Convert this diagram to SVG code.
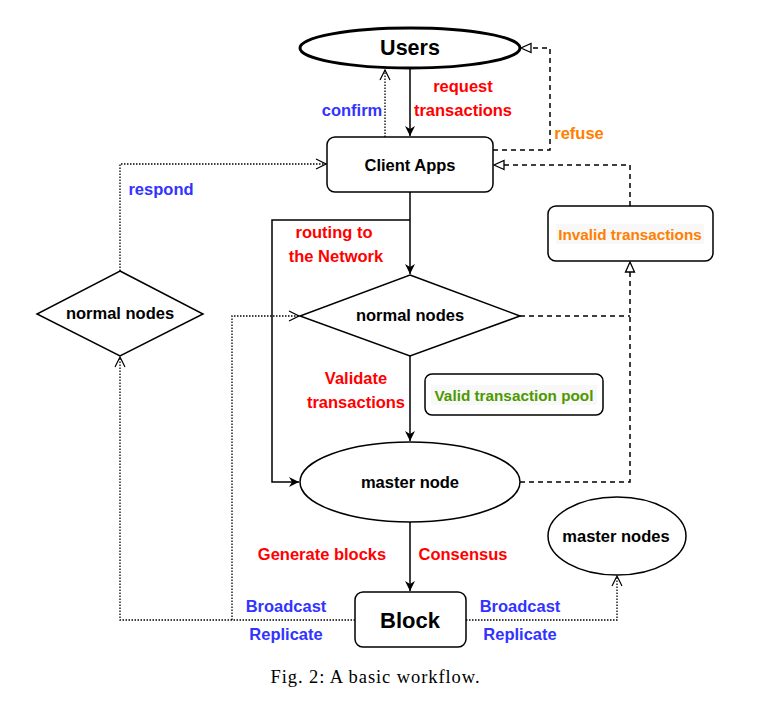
<svg xmlns="http://www.w3.org/2000/svg" width="761" height="710" viewBox="0 0 761 710">
<defs>
<style>
.n{fill:#fff;stroke:#000;stroke-width:1.5}
.t{font-family:"Liberation Sans",Arial,sans-serif;font-weight:bold;font-size:16.5px;text-anchor:middle;dominant-baseline:central}
.red{fill:#ff0000}.blue{fill:#3333ff}.org{fill:#ff8000}.grn{fill:#4d9900}
.s{fill:none;stroke:#000;stroke-width:1.5}
.d{fill:none;stroke:#000;stroke-width:1.5;stroke-dasharray:5 4}
.o{fill:none;stroke:#000;stroke-width:1.3;stroke-dasharray:1.5 1.5}
</style>
<marker id="af" viewBox="0 0 12 12" refX="11" refY="6" markerWidth="12" markerHeight="12" markerUnits="userSpaceOnUse" orient="auto"><path d="M1,1 L11,6 L1,11 L4,6 Z" fill="#000"/></marker>
<marker id="ao" viewBox="0 0 12 12" refX="11" refY="6" markerWidth="12" markerHeight="12" markerUnits="userSpaceOnUse" orient="auto"><path d="M1,1 L11,6 L1,11" fill="none" stroke="#000" stroke-width="1.2"/></marker>
<marker id="at" viewBox="0 0 12 12" refX="11" refY="6" markerWidth="12" markerHeight="12" markerUnits="userSpaceOnUse" orient="auto"><path d="M1,1.5 L11,6 L1,10.5 Z" fill="#fff" stroke="#000" stroke-width="1.3"/></marker>
</defs>
<rect width="761" height="710" fill="#fff"/>
<g id="connectors">
<path class="s" d="M410,68 V136" marker-end="url(#af)"/>
<path class="o" d="M385,137 V70" marker-end="url(#ao)"/>
<path class="d" d="M493,150 H550 V48 H521" marker-end="url(#at)"/>
<path class="d" d="M630,206 V165 H494" marker-end="url(#at)"/>
<path class="s" d="M410,192 V274" marker-end="url(#af)"/>
<path class="s" d="M410,220 H272 V482 H299" marker-end="url(#af)"/>
<path class="d" d="M520,316 H630"/>
<path class="d" d="M520,482 H630 V262" marker-end="url(#at)"/>
<path class="s" d="M410,355 V441" marker-end="url(#af)"/>
<path class="s" d="M410,522 V591" marker-end="url(#af)"/>
<path class="o" d="M466,620 H617 V576" marker-end="url(#ao)"/>
<path class="o" d="M355,620 H120 V357" marker-end="url(#ao)"/>
<path class="o" d="M232,620 V316 H299" marker-end="url(#ao)"/>
<path class="o" d="M120,271 V164 H326" marker-end="url(#ao)"/>
</g>
<g id="labels">
<text class="t red" x="463" y="86">request</text>
<text class="t red" x="463" y="110">transactions</text>
<text class="t blue" x="352" y="110">confirm</text>
<text class="t org" x="579" y="133">refuse</text>
<text class="t blue" x="161" y="189">respond</text>
<text class="t red" x="334" y="232">routing to</text>
<text class="t red" x="336" y="256">the Network</text>
<text class="t red" x="356" y="378">Validate</text>
<text class="t red" x="356" y="402">transactions</text>
<text class="t red" x="322" y="554">Generate blocks</text>
<text class="t red" x="463" y="554">Consensus</text>
<text class="t blue" x="286" y="606">Broadcast</text>
<text class="t blue" x="286" y="634">Replicate</text>
<text class="t blue" x="520" y="606">Broadcast</text>
<text class="t blue" x="520" y="634">Replicate</text>
</g>
<g id="users"><ellipse cx="410" cy="48" rx="110" ry="20" fill="#fff" stroke="#000" stroke-width="3"/><text class="t" x="410" y="48" style="font-size:21.5px">Users</text></g>
<g id="client-apps"><rect class="n" x="327" y="137" width="166" height="55" rx="8"/><text class="t" x="410" y="165">Client Apps</text></g>
<g id="invalid-transactions"><rect class="n" x="548" y="206" width="165" height="55" rx="8"/><rect x="556" y="224" width="148" height="20" fill="#f8f8f8"/><text class="t org" x="630" y="234" style="font-size:15.3px">Invalid transactions</text></g>
<g id="normal-nodes-center"><path class="n" d="M410,275 L520,316 L410,356 L300,316 Z"/><text class="t" x="410" y="315">normal nodes</text></g>
<g id="normal-nodes-left"><path class="n" d="M120,271 L203,314 L120,356 L37,314 Z"/><text class="t" x="120" y="313">normal nodes</text></g>
<g id="valid-pool"><rect class="n" x="425" y="374" width="178" height="41" rx="7"/><rect x="431" y="385" width="166" height="20" fill="#f8f8f8"/><text class="t grn" x="514" y="395" style="font-size:15.3px">Valid transaction pool</text></g>
<g id="master-node"><ellipse class="n" cx="410" cy="482" rx="110" ry="40"/><text class="t" x="410" y="482">master node</text></g>
<g id="master-nodes"><ellipse class="n" cx="617" cy="536" rx="69" ry="39"/><text class="t" x="616" y="536">master nodes</text></g>
<g id="block"><rect class="n" x="355" y="592" width="111" height="55" rx="8"/><text class="t" x="410" y="620" style="font-size:22px">Block</text></g>
<text x="375" y="677" font-family="'Liberation Serif','Times New Roman',serif" font-size="18.5" text-anchor="middle" dominant-baseline="central" textLength="209" lengthAdjust="spacing">Fig. 2: A basic workflow.</text>
</svg>
